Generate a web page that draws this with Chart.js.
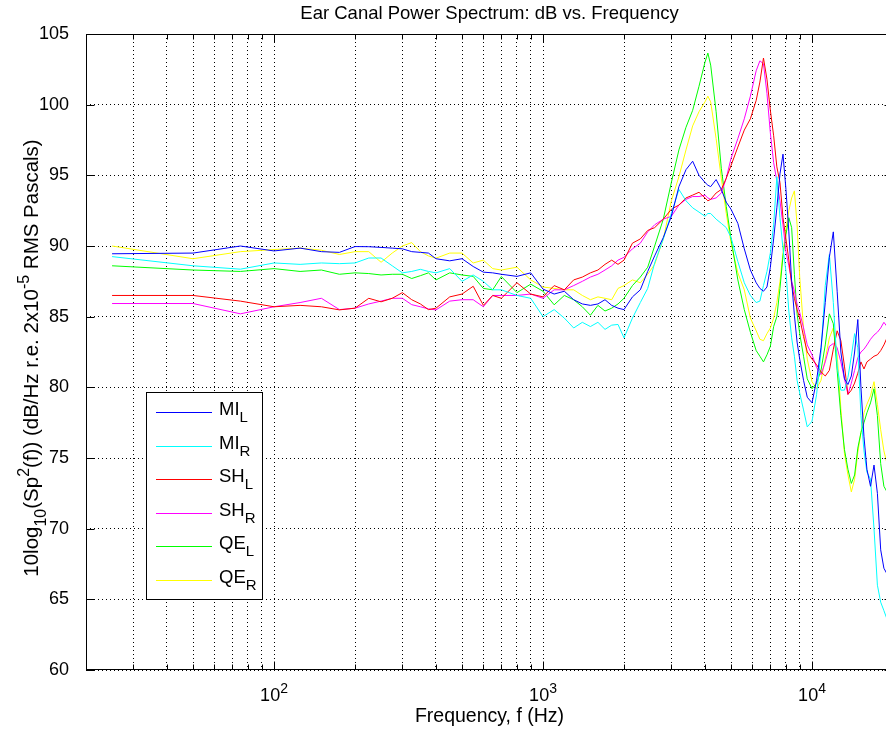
<!DOCTYPE html>
<html>
<head>
<meta charset="utf-8">
<script src="https://cdn.jsdelivr.net/npm/chart.js@4/dist/chart.umd.min.js"></script>
<style>
  html, body { margin: 0; padding: 0; background: #fff; overflow: hidden; }
  canvas { display: block; }
</style>
</head>
<body>
<canvas id="spectrumChart" width="900" height="730"></canvas>
<script>
// frequency grid (Hz) shared by all six spectra
const freqs = [25,50,75,100,125,150,175,200,225,250,
  275,300,325,350,375,400,450,500,550,600,
  650,700,800,900,1000,1100,1200,1300,1400,1500,
  1600,1700,1800,1900,2000,2150,2300,2450,2600,2800,
  3000,3200,3400,3600,3800,4000,4100,4200,4400,4600,
  4800,5000,5300,5600,5900,6200,6400,6600,6800,7000,
  7200,7400,7600,7800,8000,8200,8400,8600,8800,9000,
  9300,9600,10000,10400,10800,11200,11600,12000,12400,12800,
  13200,13600,14000,14400,14800,15200,15600,16000,16500,17000,
  17500,18000,18500,19000,19500,20000];

const miL = [89.45,89.5,90.0,89.65,89.85,89.6,89.55,89.96,89.95,89.9,
  89.85,89.8,89.6,89.55,89.5,89.1,88.95,89.1,88.55,88.15,
  88.1,88.0,87.85,88.1,86.95,86.6,86.8,86.2,85.9,85.8,
  85.9,86.2,85.8,85.6,85.5,86.4,86.9,88.2,89.3,90.6,
  92.1,94.2,95.4,96.0,95.0,94.5,94.3,94.2,94.7,94.0,
  93.1,92.6,91.6,89.8,88.3,87.4,87.0,86.8,87.1,88.5,
  90.5,92.7,95.1,96.5,94.0,91.0,87.5,85.1,83.2,82.0,
  80.5,79.3,78.9,80.5,82.8,86.0,89.2,91.0,86.8,82.5,
  80.6,80.2,80.8,82.5,84.8,80.0,76.5,74.2,73.0,74.5,
  72.5,68.5,67.2,66.8,66.5,66.3];

const miR = [89.25,88.6,88.36,88.8,88.7,88.8,88.75,88.8,89.15,89.15,
  88.6,88.1,88.2,88.35,88.2,88.1,88.4,87.5,87.95,87.5,
  86.9,86.9,86.5,86.3,85.0,85.5,84.9,84.2,84.6,84.3,
  84.6,84.1,84.4,84.45,83.5,84.9,86.0,87.0,88.8,90.5,
  92.3,94.0,93.2,92.7,92.4,92.1,92.3,92.3,91.9,91.6,
  91.3,90.6,88.9,87.4,86.5,86.0,86.1,87.2,88.2,89.5,
  91.5,94.9,92.0,89.8,88.2,85.4,83.5,82.2,80.5,79.6,
  78.4,77.2,77.6,79.5,82.5,87.2,89.4,86.0,81.5,79.8,
  79.8,80.7,82.2,83.8,82.8,78.0,75.5,74.0,73.5,70.0,
  66.0,64.8,64.2,63.6,63.4,63.2];

const shL = [86.5,86.5,86.1,85.7,85.8,85.7,85.48,85.6,86.3,86.05,
  86.3,86.7,86.2,85.9,85.5,85.6,86.4,86.6,87.15,85.8,
  86.5,86.3,87.4,86.6,86.4,87.2,86.9,87.6,87.8,88.1,
  88.3,88.7,89.0,88.7,89.0,90.2,90.5,91.1,91.3,91.9,
  92.6,92.9,93.4,93.6,93.8,93.4,93.2,93.3,93.75,94.0,
  94.8,95.7,97.0,98.2,99.0,100.3,101.6,103.3,101.8,99.6,
  97.8,95.6,94.5,92.0,90.5,89.0,87.3,86.3,85.5,84.9,
  83.6,82.5,82.0,81.6,81.1,80.8,81.2,82.7,84.0,83.3,
  81.5,79.5,79.8,80.3,81.0,81.8,81.3,81.8,82.0,82.2,
  82.3,82.6,83.0,83.5,83.8,84.0];

const shR = [85.93,85.93,85.2,85.7,86.0,86.3,85.5,85.6,85.9,86.1,
  86.3,86.3,85.85,85.7,85.55,85.48,86.1,86.2,86.2,85.7,
  86.5,86.5,86.5,86.6,86.3,86.9,86.9,87.2,87.5,87.8,
  88.0,88.3,88.6,89.0,89.2,89.8,90.2,91.0,91.5,91.9,
  92.1,92.9,93.3,93.5,93.5,93.6,93.4,93.3,93.4,93.75,
  94.8,96.2,97.6,99.0,100.6,102.4,103.1,102.9,100.8,98.0,
  95.9,94.6,93.2,91.5,89.6,88.6,87.5,86.8,85.9,85.3,
  84.2,83.0,82.3,81.4,80.9,81.8,82.9,83.1,82.8,81.8,
  80.6,79.5,80.3,81.2,82.1,82.5,82.7,83.0,83.4,83.7,
  83.9,84.2,84.6,84.3,84.4,84.5];

const qeL = [88.6,88.3,88.2,88.4,88.2,88.3,88.0,88.1,88.05,87.95,
  88.0,88.0,87.7,87.9,88.1,87.6,88.1,87.95,87.85,87.0,
  86.9,87.84,86.7,87.3,86.8,85.84,86.5,86.2,85.7,85.1,
  85.8,85.4,85.6,85.9,86.3,87.2,87.8,88.5,90.0,91.9,
  94.5,96.8,98.4,99.6,101.3,103.0,103.65,102.8,99.5,95.5,
  92.8,90.5,87.6,85.5,83.9,82.6,82.2,81.8,82.3,82.9,
  84.3,85.0,87.0,89.3,90.8,92.0,91.3,88.0,85.2,83.8,
  82.2,80.6,79.9,80.3,81.2,83.0,85.2,84.5,81.2,78.0,
  75.6,74.2,73.2,73.8,75.7,76.8,77.5,78.2,78.9,79.9,
  78.0,74.6,73.0,72.6,72.4,72.3];

const qeR = [90.0,89.1,89.6,89.75,89.85,89.7,89.4,89.6,89.6,88.85,
  89.5,90.0,90.24,89.6,89.3,89.14,89.5,89.5,88.8,89.0,
  88.4,88.3,88.5,87.6,87.1,87.0,86.9,86.9,86.5,86.2,
  86.4,86.3,86.2,87.0,87.2,87.6,87.4,88.0,88.7,90.5,
  93.2,94.9,96.8,98.5,99.5,100.2,100.6,100.2,97.6,94.8,
  92.3,90.2,88.1,86.9,84.9,84.0,83.4,83.3,83.8,84.2,
  84.9,86.0,87.5,89.5,91.2,92.5,93.4,93.9,91.5,87.8,
  84.2,82.0,80.4,79.9,80.5,82.0,83.5,84.2,82.3,78.5,
  75.3,73.8,72.6,73.5,75.4,76.8,78.2,78.8,79.4,80.4,
  78.8,77.0,75.5,74.6,74.4,74.2];

const seriesNames = ['MI_L', 'MI_R', 'SH_L', 'SH_R', 'QE_L', 'QE_R'];
const seriesValues = [miL, miR, shL, shR, qeL, qeR];
const seriesColors = ['#0000ff', '#00ffff', '#ff0000', '#ff00ff', '#00ff00', '#ffff00'];

const yTicks = [60, 65, 70, 75, 80, 85, 90, 95, 100, 105];
const xDecades = [100, 1000, 10000];
const xMin = 20, xMax = 20000;

const FONT = '"Liberation Sans", Arial, Helvetica, sans-serif';

// dotted grid positions on the log axis: 20..90, 100..900, ...
const xGrid = [];
for (let d = 10; d <= 10000; d *= 10) {
  for (let m = 1; m <= 9; m++) {
    const v = m * d;
    if (v >= xMin && v <= xMax) xGrid.push(v);
  }
}

// draw a string made of normal / sub / sup pieces
function richText(ctx, parts, x, y, size, align) {
  const small = Math.round(size * 0.8);
  const widths = parts.map(p => {
    ctx.font = (p[1] ? small : size) + 'px ' + FONT;
    return ctx.measureText(p[0]).width;
  });
  const total = widths.reduce((a, b) => a + b, 0);
  let cx = align === 'center' ? x - total / 2 : x;
  ctx.textAlign = 'left';
  ctx.textBaseline = 'alphabetic';
  parts.forEach((p, i) => {
    ctx.font = (p[1] ? small : size) + 'px ' + FONT;
    const dy = p[1] === 'sub' ? size * 0.38 : p[1] === 'sup' ? -size * 0.42 : 0;
    ctx.fillText(p[0], cx, y + dy);
    cx += widths[i];
  });
}

const decorations = {
  id: 'decorations',
  afterDraw(chart) {
    const { ctx, chartArea: a, scales: { x, y } } = chart;
    const L = Math.round(a.left) + 0.5, R = Math.round(a.right) - 0.5;
    const T = Math.round(a.top) + 0.5, B = Math.round(a.bottom) - 0.5;
    ctx.save();
    ctx.strokeStyle = '#000';
    ctx.lineWidth = 1;
    ctx.strokeRect(L, T, R - L, B - T);

    // inward tick marks
    ctx.beginPath();
    yTicks.forEach(v => {
      const py = Math.round(y.getPixelForValue(v)) + 0.5;
      ctx.moveTo(L, py); ctx.lineTo(L + 8, py);
      ctx.moveTo(R, py); ctx.lineTo(R - 8, py);
    });
    xGrid.forEach(v => {
      const px = Math.round(x.getPixelForValue(v)) + 0.5;
      const len = xDecades.includes(v) ? 8 : 5;
      ctx.moveTo(px, B); ctx.lineTo(px, B - len);
      ctx.moveTo(px, T); ctx.lineTo(px, T + len);
    });
    ctx.stroke();

    ctx.fillStyle = '#000';
    // y tick labels
    ctx.font = '18px ' + FONT;
    ctx.textAlign = 'right';
    ctx.textBaseline = 'middle';
    yTicks.forEach(v => ctx.fillText(String(v), 69, y.getPixelForValue(v)));

    // x tick labels 10^n
    xDecades.forEach(v => {
      const px = x.getPixelForValue(v);
      richText(ctx, [['10', ''], [String(Math.round(Math.log10(v))), 'sup']], px, 701, 18, 'center');
    });

    const cx = (a.left + a.right) / 2;
    // title and axis titles
    ctx.font = '18.5px ' + FONT;
    ctx.textAlign = 'center';
    ctx.textBaseline = 'middle';
    ctx.fillText('Ear Canal Power Spectrum: dB vs. Frequency', cx, 14);
    ctx.font = '19.5px ' + FONT;
    ctx.fillText('Frequency, f (Hz)', cx, 717);

    ctx.save();
    ctx.translate(38, (a.top + a.bottom) / 2 + 6);
    ctx.rotate(-Math.PI / 2);
    richText(ctx, [['10log', ''], ['10', 'sub'], ['(Sp', ''], ['2', 'sup'],
      ['(f)) (dB/Hz r.e. 2x10', ''], ['-5', 'sup'], [' RMS Pascals)', '']], 0, 0, 20.5, 'center');
    ctx.restore();

    // legend
    const lx = 146.5, ly = 392.5, lw = 116, lh = 207;
    ctx.fillStyle = '#fff';
    ctx.fillRect(lx, ly, lw, lh);
    ctx.strokeStyle = '#000';
    ctx.strokeRect(lx, ly, lw, lh);
    chart.data.datasets.forEach((ds, i) => {
      const ry = 412 + i * 33.5;
      ctx.strokeStyle = ds.borderColor;
      ctx.beginPath();
      ctx.moveTo(156, Math.round(ry) + 0.5);
      ctx.lineTo(212, Math.round(ry) + 0.5);
      ctx.stroke();
      const [main, sub] = ds.label.split('_');
      ctx.fillStyle = '#000';
      richText(ctx, [[main, ''], [sub, 'sub']], 219, ry + 3, 18.5, 'left');
    });
    ctx.restore();
  }
};

new Chart(document.getElementById('spectrumChart'), {
  type: 'line',
  data: {
    datasets: seriesNames.map((name, i) => ({
      label: name,
      data: freqs.map((f, j) => ({ x: f, y: seriesValues[i][j] })),
      borderColor: seriesColors[i],
      borderWidth: 1,
      pointRadius: 0,
      tension: 0,
      fill: false
    }))
  },
  options: {
    responsive: false,
    animation: false,
    events: [],
    layout: { padding: { left: 86, top: 34, right: 7, bottom: 60 } },
    plugins: { legend: { display: false }, tooltip: { enabled: false } },
    scales: {
      x: {
        type: 'logarithmic',
        min: xMin,
        max: xMax,
        afterBuildTicks: s => { s.ticks = xGrid.map(v => ({ value: v })); },
        ticks: { display: false },
        grid: { color: '#000', lineWidth: 1, drawTicks: false },
        border: { display: false, dash: [1, 3] }
      },
      y: {
        type: 'linear',
        min: 60,
        max: 105,
        afterBuildTicks: s => { s.ticks = yTicks.map(v => ({ value: v })); },
        ticks: { display: false },
        grid: { color: '#000', lineWidth: 1, drawTicks: false },
        border: { display: false, dash: [1, 3] }
      }
    }
  },
  plugins: [decorations]
});
</script>
</body>
</html>
